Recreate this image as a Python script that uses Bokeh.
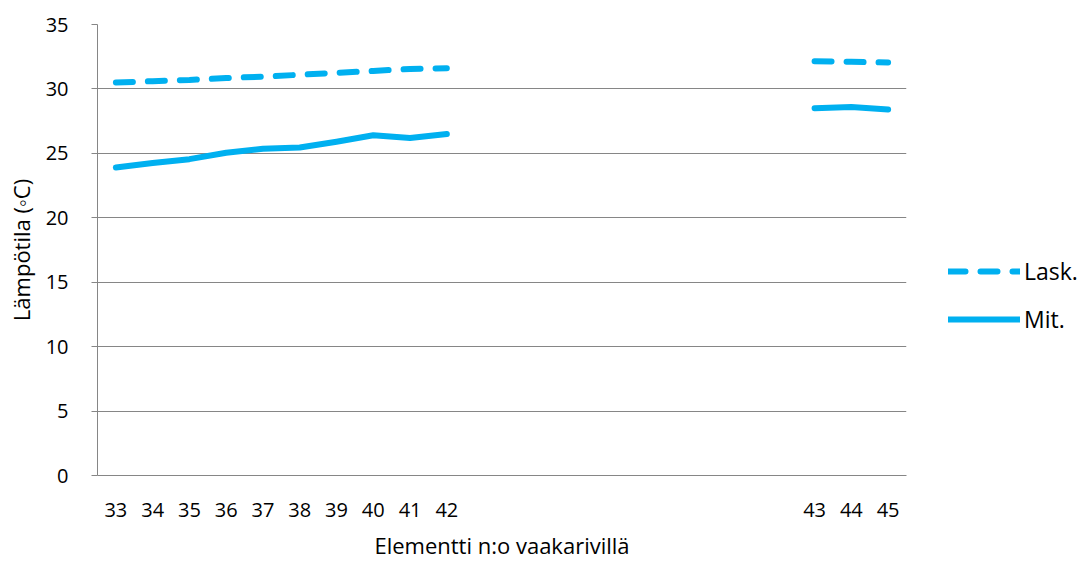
from bokeh.plotting import figure
from bokeh.models import Legend, LegendItem, FactorRange, ColumnDataSource
from bokeh.layouts import row
from bokeh.embed import file_html
from bokeh.resources import INLINE

nan = float("nan")
# categories (blank slots are empty category positions on the axis)
elements = ["33", "34", "35", "36", "37", "38", "39", "40", "41", "42",
            " ", "  ", "   ", "    ", "     ", "      ", "       ", "        ", "         ",
            "43", "44", "45"]
lask = [30.5, 30.6, 30.7, 30.85, 30.95, 31.1, 31.25, 31.4, 31.55, 31.6,
        nan, nan, nan, nan, nan, nan, nan, nan, nan,
        32.15, 32.1, 32.05]
mit = [23.9, 24.25, 24.55, 25.05, 25.35, 25.45, 25.9, 26.4, 26.2, 26.5,
       nan, nan, nan, nan, nan, nan, nan, nan, nan,
       28.5, 28.6, 28.4]
y_ticks = [0, 5, 10, 15, 20, 25, 30, 35]
series_names = ["Lask.", "Mit."]

COL = "#00B0F0"
FONT = "Open Sans"
GRID = "#868686"
DASH = "17 15"

src = ColumnDataSource(data=dict(x=elements, lask=lask, mit=mit))

p = figure(width=920, height=562, x_range=FactorRange(*elements, range_padding=0),
           y_range=(0, 35), output_backend="svg", toolbar_location=None,
           min_border_left=97, min_border_top=24, min_border_right=14, min_border_bottom=87)
p.outline_line_color = None
p.background_fill_color = "white"
p.border_fill_color = "white"

p.line("x", "lask", source=src, line_color=COL, line_width=6, line_dash=DASH, line_cap="round")
p.line("x", "mit", source=src, line_color=COL, line_width=6, line_cap="round", line_join="round")

p.xgrid.grid_line_color = None
p.ygrid.grid_line_color = GRID
p.ygrid.grid_line_width = 1
p.yaxis.ticker = y_ticks

p.yaxis.axis_line_color = GRID
p.yaxis.major_tick_line_color = GRID
p.yaxis.major_tick_in = 0
p.yaxis.major_tick_out = 6
p.yaxis.minor_tick_line_color = None
p.yaxis.major_label_standoff = 23
p.yaxis.major_label_text_font = FONT
p.yaxis.major_label_text_font_size = "20px"
p.yaxis.major_label_text_color = "black"
p.yaxis.axis_label = "Lämpötila (◦C)"
p.yaxis.axis_label_text_font = FONT
p.yaxis.axis_label_text_font_size = "22px"
p.yaxis.axis_label_text_font_style = "normal"
p.yaxis.axis_label_text_color = "black"
p.yaxis.axis_label_standoff = 7

p.xaxis.axis_line_color = GRID
p.xaxis.major_tick_line_color = None
p.xaxis.major_tick_in = 0
p.xaxis.major_tick_out = 0
p.xaxis.minor_tick_line_color = None
p.xaxis.major_label_standoff = 20
p.xaxis.major_label_text_font = FONT
p.xaxis.major_label_text_font_size = "20px"
p.xaxis.major_label_text_color = "black"
p.xaxis.axis_label = "Elementti n:o vaakarivillä"
p.xaxis.axis_label_text_font = FONT
p.xaxis.axis_label_text_font_size = "22px"
p.xaxis.axis_label_text_font_style = "normal"
p.xaxis.axis_label_text_color = "black"
p.xaxis.axis_label_standoff = 4

# legend panel (separate figure to the right of the plot area; its series lie outside its view)
lg = figure(width=160, height=562, x_range=FactorRange(*elements), y_range=(-2, -1),
            output_backend="svg", toolbar_location=None,
            min_border_left=0, min_border_right=0, min_border_top=0, min_border_bottom=0)
lg.axis.visible = False
lg.grid.visible = False
lg.outline_line_color = None
g1 = lg.line("x", "lask", source=src, line_color=COL, line_width=6, line_dash=DASH, line_cap="round")
g2 = lg.line("x", "mit", source=src, line_color=COL, line_width=6, line_cap="round")

legend = Legend(items=[LegendItem(label=series_names[0], renderers=[g1]),
                       LegendItem(label=series_names[1], renderers=[g2])],
                location=(28, 140), orientation="vertical",
                glyph_width=72, glyph_height=20, label_standoff=4,
                spacing=16, padding=0, margin=0,
                border_line_color=None, background_fill_alpha=0,
                label_text_font=FONT, label_text_font_size="23px", label_text_color="black")
lg.add_layout(legend, "center")

layout = row(p, lg, spacing=0)
open("out.html", "w").write(file_html(layout, INLINE))
